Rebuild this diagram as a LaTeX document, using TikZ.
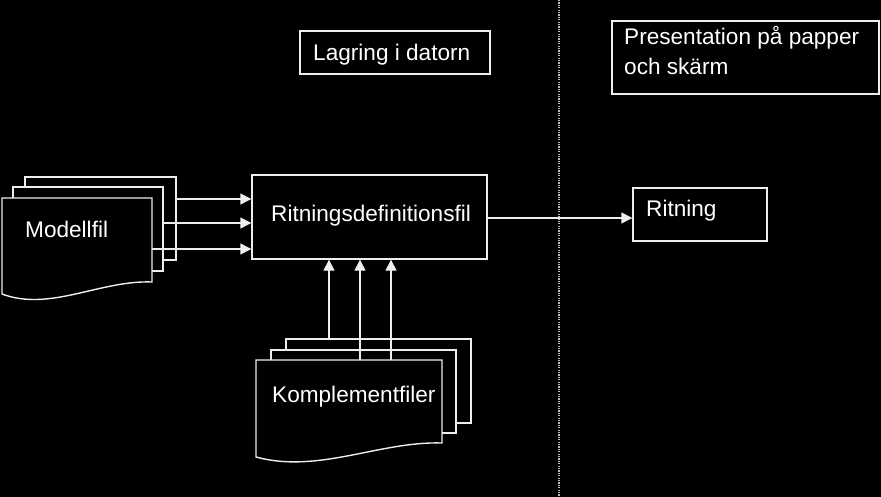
\documentclass[tikz,border=0pt]{standalone}
\usepackage{fontspec}
\setmainfont{Liberation Sans}
\usetikzlibrary{arrows.meta}
\definecolor{ln}{RGB}{238,238,238}
\tikzset{
  ln/.style={draw=ln, line width=1.4pt},
  box/.style={ln, fill=black, rectangle, inner sep=0pt},
  page/.style={ln, fill=black, line join=miter},
  arr/.style={draw=ln, line width=1.4pt, -{Triangle[length=11pt,width=11pt]}},
  txt/.style={text=white, inner sep=0pt, font=\fontsize{22.6}{30}\selectfont},
}
\begin{document}
\begin{tikzpicture}[x=1pt,y=-1pt]
\fill[black] (0,0) rectangle (881,497);
\useasboundingbox (0,0) rectangle (881,497);
% divider
\draw[color=ln!80!black, line width=1.6pt, dash pattern=on 1.2pt off 1.2pt] (559,0) -- (559,497);
% title boxes
\node[box, minimum width=190pt, minimum height=43pt] (lag) at (395,52.5) {};
\node[txt, anchor=base west] (lagt) at (313,61) {Lagring i datorn};
\node[box, minimum width=267pt, minimum height=73pt] (pres) at (745.5,57.5) {};
\node[txt, anchor=base west] (prest1) at (624,45) {Presentation på papper};
\node[txt, anchor=base west] (prest2) at (624,75) {och skärm};
% main boxes
\node[box, minimum width=235pt, minimum height=84pt] (rdf) at (369.5,217) {};
\node[txt, anchor=base west] (rdft) at (271,222) {Ritningsdefinitionsfil};
\node[box, minimum width=134pt, minimum height=53pt] (rit) at (700,214.5) {};
\node[txt, anchor=base west] (ritt) at (646,217) {Ritning};
% Modellfil pages
\path[page] (25,177) -- (176,177) -- (176,260) -- (25,260) -- cycle;
\path[page] (13,187) -- (163,187) -- (163,271) -- (13,271) -- cycle;
\path[page] (2,198) -- (152,198) -- (152,282) .. controls (100,280) and (50,312) .. (2,294) -- cycle;
\node[txt, anchor=base west] (mod) at (25,238) {Modellfil};
\coordinate (m1) at (176,199);
\coordinate (m2) at (163,223);
\coordinate (m3) at (152,249);
\draw[arr] (m1) -- (m1 -| rdf.west);
\draw[arr] (m2) -- (m2 -| rdf.west);
\draw[arr] (m3) -- (m3 -| rdf.west);
% Komplementfiler pages
\path[page] (286,339) -- (471,339) -- (471,423) -- (286,423) -- cycle;
\path[page] (271,350) -- (456,350) -- (456,433) -- (271,433) -- cycle;
\path[page] (256,360) -- (442,360) -- (442,443) .. controls (380,441) and (318,474) .. (256,457) -- cycle;
\node[txt, anchor=base west] (kom) at (272,402) {Komplementfiler};
\coordinate (k1) at (329,339);
\coordinate (k2) at (360,360);
\coordinate (k3) at (391,360);
\draw[arr] (k1) -- (k1 |- rdf.south);
\draw[arr] (k2) -- (k2 |- rdf.south);
\draw[arr] (k3) -- (k3 |- rdf.south);
% output arrow
\coordinate (o1) at (487,218);
\draw[arr] (o1) -- (o1 -| rit.west);
\end{tikzpicture}
\end{document}
